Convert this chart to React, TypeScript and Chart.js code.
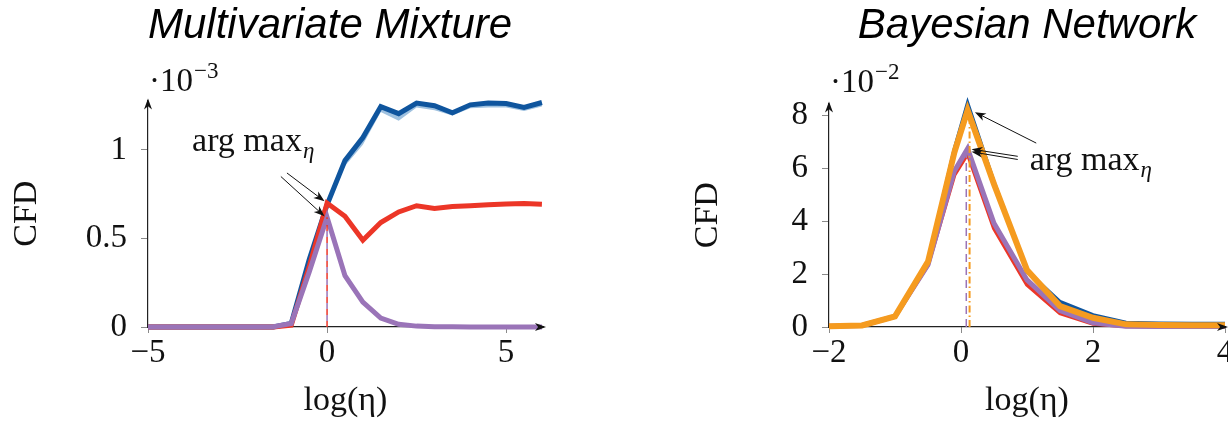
import React, { useEffect, useRef } from 'react';
import { Chart, registerables } from 'chart.js';

Chart.register(...registerables);

const SERIF = '"Liberation Serif", "Times New Roman", serif';
const SANS = '"Liberation Sans", Arial, sans-serif';

// ---------- Multivariate Mixture (values in units of 1e-3) ----------
const mmLogEta = [-5, -4.5, -4, -3.5, -3, -2.5, -2, -1.5, -1, -0.5, 0, 0.5, 1, 1.5, 2, 2.5, 3, 3.5, 4, 4.5, 5, 5.5, 6];
const mmBlue = [0, 0, 0, 0, 0, 0, 0, 0, 0.02, 0.38, 0.69, 0.94, 1.07, 1.245, 1.205, 1.265, 1.25, 1.21, 1.255, 1.265, 1.262, 1.24, 1.268];
const mmBlueLow = [0, 0, 0, 0, 0, 0, 0, 0, 0.01, 0.36, 0.67, 0.91, 1.03, 1.215, 1.165, 1.24, 1.225, 1.195, 1.235, 1.24, 1.24, 1.22, 1.245];
const mmRed = [0, 0, 0, 0, 0, 0, 0, 0, 0.01, 0.34, 0.7, 0.625, 0.49, 0.59, 0.65, 0.685, 0.67, 0.68, 0.685, 0.69, 0.695, 0.697, 0.693];
const mmPurple = [0, 0, 0, 0, 0, 0, 0, 0.002, 0.02, 0.31, 0.62, 0.29, 0.14, 0.05, 0.015, 0.005, 0.002, 0.001, 0, 0, 0, 0, 0];
const mmArgmaxX = 0;
const mmArgmaxRedY = 0.7;
const mmArgmaxPurpleY = 0.62;
const mmXTicks = [-5, 0, 5];
const mmYTicks = [0, 0.5, 1];

// ---------- Bayesian Network (values in units of 1e-2) ----------
const bnLogEta = [-2, -1.5, -1, -0.5, -0.1, 0.1, 0.5, 1, 1.5, 2, 2.5, 3, 3.5, 4];
const bnBlue = [0.03, 0.06, 0.4, 2.45, 6.7, 8.44, 5.45, 2.1, 0.95, 0.45, 0.16, 0.13, 0.12, 0.12];
const bnRed = [0.03, 0.06, 0.4, 2.35, 5.75, 6.55, 3.73, 1.6, 0.52, 0.12, 0.03, 0.02, 0.02, 0.02];
const bnPurple = [0.03, 0.06, 0.4, 2.35, 5.9, 6.74, 3.92, 1.78, 0.62, 0.16, 0.03, 0.02, 0.02, 0.02];
const bnOrange = [0.03, 0.06, 0.4, 2.47, 6.6, 8.19, 5.4, 2.15, 0.79, 0.35, 0.1, 0.08, 0.07, 0.07];
const bnArgmaxPurpleX = 0.08;
const bnArgmaxPurpleY = 6.49;
const bnArgmaxOrangeX = 0.13;
const bnArgmaxOrangeY = 7.9;
const bnXTicks = [-2, 0, 2, 4];
const bnYTicks = [0, 2, 4, 6, 8];

const BLUE = '#0f559e';
const BAND = '#9fc1df';
const RED = '#ec3627';
const PURPLE = '#9a74b8';
const ORANGE = '#f59b1f';

const pts = (xs: number[], ys: number[]) => xs.map((x, i) => ({ x, y: ys[i] }));
const fmtTick = (v: any) => {
  const n = Number(v);
  return n < 0 ? '\u2212' + String(Math.abs(n)) : String(n);
};

function arrowHead(ctx: CanvasRenderingContext2D, sx: number, sy: number, tx: number, ty: number, len = 11, half = 4) {
  const a = Math.atan2(ty - sy, tx - sx);
  ctx.save();
  ctx.translate(tx, ty);
  ctx.rotate(a);
  ctx.beginPath();
  ctx.moveTo(0, 0);
  ctx.lineTo(-len, -half);
  ctx.lineTo(-len * 0.72, 0);
  ctx.lineTo(-len, half);
  ctx.closePath();
  ctx.fill();
  ctx.restore();
}

const decorPlugin = {
  id: 'decor',
  afterDatasetsDraw(chart: any, _args: any, opts: any) {
    const { ctx, chartArea: ca, scales } = chart;
    const xs = scales.x;
    const ys = scales.y;
    ctx.save();
    ctx.strokeStyle = '#222';
    ctx.fillStyle = '#111';
    ctx.lineWidth = 1.2;
    // y axis arrow
    const yTip = ca.top - (opts.yExt || 0);
    ctx.beginPath();
    ctx.moveTo(ca.left, ca.top + 1);
    ctx.lineTo(ca.left, yTip + 4);
    ctx.stroke();
    arrowHead(ctx, ca.left, ca.top + 20, ca.left, yTip, 11, 4);
    // x axis arrow
    const xTip = ca.right + (opts.xExt || 0);
    ctx.beginPath();
    ctx.moveTo(ca.right - 1, ca.bottom);
    ctx.lineTo(xTip - 4, ca.bottom);
    ctx.stroke();
    arrowHead(ctx, ca.right - 20, ca.bottom, xTip, ca.bottom, 11, 4);

    // exponent label
    ctx.fillStyle = '#111';
    ctx.textBaseline = 'alphabetic';
    ctx.textAlign = 'left';
    ctx.font = '33px ' + SERIF;
    const ex = ca.left + 1;
    const ey = ca.top - opts.expDy;
    const base = '\u00B710';
    ctx.fillText(base, ex, ey);
    const bw = ctx.measureText(base).width;
    ctx.font = '23px ' + SERIF;
    ctx.fillText(opts.expPow, ex + bw + 1, ey - 13);

    // annotation
    const ann = opts.annotation;
    const tx = xs.getPixelForValue(ann.textX);
    const ty = ys.getPixelForValue(ann.textY);
    ctx.font = '34px ' + SERIF;
    ctx.fillText('arg max', tx, ty);
    const aw = ctx.measureText('arg max').width;
    ctx.font = 'italic 23px ' + SERIF;
    ctx.fillText('\u03B7', tx + aw + 1, ty + 7);

    ctx.strokeStyle = '#111';
    ctx.lineWidth = 1;
    for (const ar of ann.arrows) {
      const sx = xs.getPixelForValue(ar[0]);
      const sy = ys.getPixelForValue(ar[1]);
      const ex2 = xs.getPixelForValue(ar[2]);
      const ey2 = ys.getPixelForValue(ar[3]);
      const ang = Math.atan2(ey2 - sy, ex2 - sx);
      ctx.beginPath();
      ctx.moveTo(sx, sy);
      ctx.lineTo(ex2 - Math.cos(ang) * 6, ey2 - Math.sin(ang) * 6);
      ctx.stroke();
      arrowHead(ctx, sx, sy, ex2, ey2, 11, 4);
    }
    ctx.restore();
  },
};

const tickFont = { family: SERIF, size: 33 };
const axisTitleFont = { family: SERIF, size: 34 };

function baseScales(opts: any) {
  return {
    x: {
      type: 'linear',
      min: opts.xMin,
      max: opts.xMax,
      afterBuildTicks: (s: any) => {
        s.ticks = opts.xTicks.map((v: number) => ({ value: v }));
      },
      ticks: { callback: fmtTick, font: tickFont, color: '#111', padding: 1, maxRotation: 0, autoSkip: false },
      grid: { display: true, drawOnChartArea: false, drawTicks: true, tickLength: 6, color: '#8a8a8a' },
      border: { display: true, color: '#222', width: 1.2 },
      title: { display: true, text: 'log(\u03B7)', font: axisTitleFont, color: '#111', padding: { top: 0, bottom: 6 } },
      afterFit: (s: any) => {
        s.height = 100;
      },
    },
    y: {
      type: 'linear',
      min: 0,
      max: opts.yMax,
      afterBuildTicks: (s: any) => {
        s.ticks = opts.yTicks.map((v: number) => ({ value: v }));
      },
      ticks: { callback: fmtTick, font: tickFont, color: '#111', padding: 14, autoSkip: false },
      grid: { display: true, drawOnChartArea: false, drawTicks: true, tickLength: 7, color: '#8a8a8a' },
      border: { display: true, color: '#222', width: 1.2 },
      title: { display: true, text: 'CFD', font: axisTitleFont, color: '#111', padding: { top: opts.yTitlePad, bottom: 0 } },
      afterFit: (s: any) => {
        s.width = opts.yWidth;
      },
    },
  };
}

function lineDs(data: any[], color: string, width: number, order: number, extra: any = {}) {
  return {
    type: 'line',
    data,
    borderColor: color,
    backgroundColor: color,
    borderWidth: width,
    pointRadius: 0,
    tension: 0,
    fill: false,
    clip: false,
    order,
    ...extra,
  };
}

function mmConfig(): any {
  return {
    type: 'line',
    data: {
      datasets: [
        lineDs(pts(mmLogEta, mmBlueLow), 'rgba(0,0,0,0)', 0, 5, { fill: { target: 1 }, backgroundColor: BAND }),
        lineDs(pts(mmLogEta, mmBlue), BLUE, 5, 4),
        lineDs(pts(mmLogEta, mmRed), RED, 5, 3),
        lineDs(pts(mmLogEta, mmPurple), PURPLE, 5, 2),
        lineDs([{ x: mmArgmaxX, y: 0 }, { x: mmArgmaxX, y: mmArgmaxPurpleY }], RED, 1.5, 1, { borderDash: [6, 6] }),
        lineDs([{ x: mmArgmaxX, y: 0 }, { x: mmArgmaxX, y: mmArgmaxPurpleY }], PURPLE, 1.5, 1, { borderDash: [6, 6], borderDashOffset: 6 }),
      ],
    },
    options: {
      responsive: false,
      animation: false,
      events: [],
      layout: { padding: { left: 0, right: 119, top: 0, bottom: 0 } },
      scales: baseScales({ xMin: -5, xMax: 6.03, xTicks: mmXTicks, yMax: 1.28, yTicks: mmYTicks, yWidth: 148, yTitlePad: 7 }),
      plugins: {
        legend: { display: false },
        tooltip: { enabled: false },
        title: {
          display: true,
          text: 'Multivariate Mixture',
          color: '#000',
          fullSize: false,
          align: 'start',
          font: { family: SANS, size: 42, style: 'italic', weight: 'normal' },
          padding: { top: 1, bottom: 49 },
        },
        decor: {
          yExt: 2,
          xExt: 3,
          expDy: 9,
          expPow: '\u22123',
          annotation: {
            textX: -3.77,
            textY: 0.995,
            arrows: [
              [-1.12, 0.87, -0.07, mmArgmaxRedY + 0.01],
              [-1.29, 0.85, -0.07, mmArgmaxPurpleY + 0.005],
            ],
          },
        },
      },
    },
    plugins: [decorPlugin],
  };
}

function bnConfig(): any {
  return {
    type: 'line',
    data: {
      datasets: [
        lineDs(pts(bnLogEta, bnBlue), BLUE, 4, 5),
        lineDs(pts(bnLogEta, bnRed), RED, 4, 4),
        lineDs(pts(bnLogEta, bnPurple), PURPLE, 5, 3),
        lineDs(pts(bnLogEta, bnOrange), ORANGE, 6, 2),
        lineDs([{ x: bnArgmaxPurpleX, y: 0 }, { x: bnArgmaxPurpleX, y: bnArgmaxPurpleY }], PURPLE, 1.5, 1, { borderDash: [8, 5] }),
        lineDs([{ x: bnArgmaxOrangeX, y: 0 }, { x: bnArgmaxOrangeX, y: bnArgmaxOrangeY }], ORANGE, 2, 1, { borderDash: [7, 3, 1.5, 3] }),
      ],
    },
    options: {
      responsive: false,
      animation: false,
      events: [],
      layout: { padding: { left: 0, right: 145, top: 0, bottom: 0 } },
      scales: baseScales({ xMin: -2, xMax: 4, xTicks: bnXTicks, yMax: 8.45, yTicks: bnYTicks, yWidth: 149, yTitlePad: 8 }),
      plugins: {
        legend: { display: false },
        tooltip: { enabled: false },
        title: {
          display: true,
          text: 'Bayesian Network',
          color: '#000',
          fullSize: false,
          align: 'center',
          font: { family: SANS, size: 42, style: 'italic', weight: 'normal' },
          padding: { top: 1, bottom: 52 },
        },
        decor: {
          yExt: 2,
          xExt: 3,
          expDy: 11,
          expPow: '\u22122',
          annotation: {
            textX: 1.04,
            textY: 5.93,
            arrows: [
              [1.14, 6.95, 0.21, 8.12],
              [0.86, 6.45, 0.16, 6.72],
              [0.86, 6.33, 0.16, 6.62],
            ],
          },
        },
      },
    },
    plugins: [decorPlugin],
  };
}

function PlotCanvas(props: { left: number; width: number; make: () => any }) {
  const ref = useRef<HTMLCanvasElement | null>(null);
  useEffect(() => {
    if (!ref.current) return;
    const chart = new Chart(ref.current, props.make());
    return () => chart.destroy();
  }, []);
  return (
    <canvas
      ref={ref}
      width={props.width}
      height={427}
      style={{ position: 'absolute', left: props.left, top: 0, width: props.width, height: 427 }}
    />
  );
}

export default function App() {
  return (
    <div
      style={{
        position: 'fixed',
        left: 0,
        top: 0,
        width: 1228,
        height: 427,
        overflow: 'hidden',
        background: '#fff',
      }}
    >
      <PlotCanvas left={0} width={662} make={mmConfig} />
      <PlotCanvas left={680} width={690} make={bnConfig} />
    </div>
  );
}
